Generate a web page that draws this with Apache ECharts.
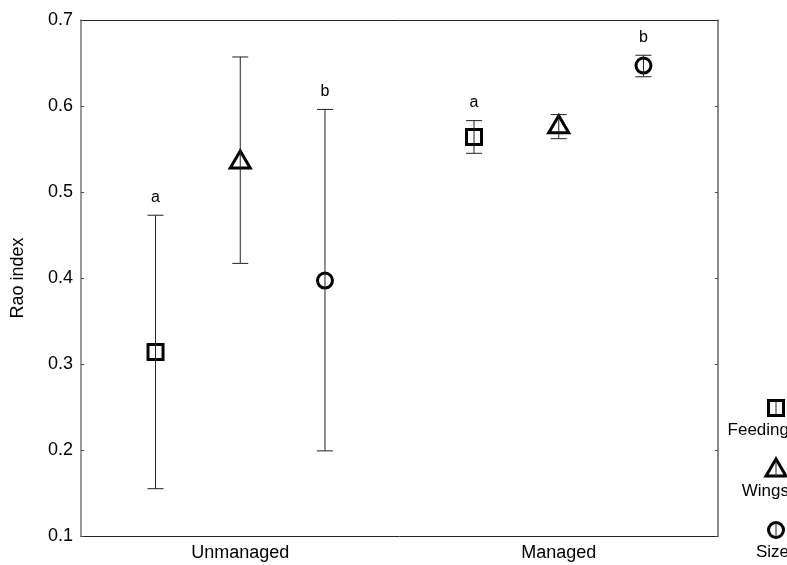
<!DOCTYPE html>
<html><head><meta charset="utf-8">
<script src="https://cdn.jsdelivr.net/npm/echarts@6/dist/echarts.min.js"></script>
<style>html,body{margin:0;padding:0;background:#fff}#c{width:787px;height:565px}</style>
</head><body><div id="c"></div>
<script>
// ---- data ----
const groups = ['Unmanaged', 'Managed'];
const traits = ['Feeding', 'Wings', 'Size'];
const meanFeeding = [0.314, 0.564];
const lowFeeding  = [0.155, 0.545];
const highFeeding = [0.473, 0.583];
const meanWings = [0.536, 0.577];
const lowWings  = [0.417, 0.562];
const highWings = [0.657, 0.590];
const meanSize = [0.397, 0.647];
const lowSize  = [0.199, 0.634];
const highSize = [0.596, 0.659];
const lettersFeeding = ['a', 'a'];
const lettersWings = ['', ''];
const lettersSize = ['b', 'b'];
const yMin = 0.1, yMax = 0.7, yStep = 0.1;

// ---- layout / style ----
const FONT = '"Liberation Sans", Arial, sans-serif';
const OFFSETS = [-0.266, 0, 0.266];
const SHAPES = ['square', 'triangle', 'circle'];

function markerShape(shape, x, y) {
  const st = { fill: '#fff', stroke: '#000', lineWidth: 3 };
  if (shape === 'square') return { type: 'rect', shape: { x: x - 7.5, y: y - 7.5, width: 15, height: 15 }, style: st };
  if (shape === 'triangle') return { type: 'polygon', shape: { points: [[x, y - 10], [x - 10, y + 7], [x + 10, y + 7]] }, style: st };
  return { type: 'circle', shape: { cx: x, cy: y, r: 7.5 }, style: st };
}

function makeSeries(k, mean, low, high, letters) {
  return {
    type: 'custom',
    name: traits[k],
    xAxisIndex: 0, yAxisIndex: 0,
    data: groups.map((g, i) => [i, mean[i], low[i], high[i]]),
    encode: { x: 0, y: [1, 2, 3] },
    renderItem(params, api) {
      const i = api.value(0);
      const c = api.coord([i, api.value(1)]);
      const bw = api.size([1, 0])[0];
      const x = c[0] + OFFSETS[k] * bw;
      const yl = api.coord([i, api.value(2)])[1];
      const yh = api.coord([i, api.value(3)])[1];
      const ls = { stroke: '#222', lineWidth: 1 };
      const children = [
        markerShape(SHAPES[k], x, c[1]),
        { type: 'line', shape: { x1: x, y1: yh, x2: x, y2: yl }, style: ls },
        { type: 'line', shape: { x1: x - 8, y1: yh, x2: x + 8, y2: yh }, style: ls },
        { type: 'line', shape: { x1: x - 8, y1: yl, x2: x + 8, y2: yl }, style: ls }
      ];
      const lt = letters[params.dataIndex];
      if (lt) children.push({ type: 'text', style: { text: lt, x: x, y: yh - 18, align: 'center', verticalAlign: 'middle', font: '16px ' + FONT, fill: '#000' } });
      return { type: 'group', children };
    }
  };
}

const legendGraphics = [];
traits.forEach((t, k) => {
  const my = 408 + k * 61;
  legendGraphics.push(Object.assign(markerShape(SHAPES[k], 776, my), { z: 10 }));
  legendGraphics.push({ type: 'line', shape: { x1: 776, y1: my - 8, x2: 776, y2: my + 8 }, style: { stroke: '#222', lineWidth: 1 }, z: 11 });
  legendGraphics.push({ type: 'text', style: { text: t, x: 789, y: my + 22, align: 'right', verticalAlign: 'middle', font: '17px ' + FONT, fill: '#000' }, z: 10 });
});

const chart = echarts.init(document.getElementById('c'), null, { renderer: 'canvas' });
chart.setOption({
  backgroundColor: '#fff',
  animation: false,
  grid: { left: 81, right: 69, top: 20, bottom: 29, containLabel: false, outerBoundsMode: 'none' },
  xAxis: [
    { type: 'category', data: groups, position: 'bottom', boundaryGap: true,
      axisLine: { lineStyle: { color: '#222', width: 1 } },
      axisTick: { inside: true, alignWithLabel: true, length: 3, lineStyle: { color: '#444' } },
      axisLabel: { fontFamily: FONT, fontSize: 18, color: '#000', margin: 8 } },
    { type: 'category', data: groups, position: 'top', boundaryGap: true,
      axisLine: { lineStyle: { color: '#222', width: 1 } },
      axisTick: { inside: true, alignWithLabel: true, length: 3, lineStyle: { color: '#444' } },
      axisLabel: { show: false } }
  ],
  yAxis: [
    { type: 'value', min: yMin, max: yMax, interval: yStep, position: 'left',
      name: 'Rao index', nameLocation: 'middle', nameGap: 54, nameRotate: 90,
      nameTextStyle: { fontFamily: FONT, fontSize: 18, color: '#000' },
      axisLine: { show: true, lineStyle: { color: '#777', width: 1.5 } },
      axisTick: { show: true, inside: true, length: 3, lineStyle: { color: '#444' } },
      splitLine: { show: false },
      axisLabel: { fontFamily: FONT, fontSize: 18, color: '#000', margin: 8, formatter: v => v.toFixed(1) } },
    { type: 'value', min: yMin, max: yMax, interval: yStep, position: 'right',
      axisLine: { show: true, lineStyle: { color: '#666', width: 1.5 } },
      axisTick: { show: true, inside: true, length: 3, lineStyle: { color: '#444' } },
      splitLine: { show: false },
      axisLabel: { show: false } }
  ],
  series: [
    makeSeries(0, meanFeeding, lowFeeding, highFeeding, lettersFeeding),
    makeSeries(1, meanWings, lowWings, highWings, lettersWings),
    makeSeries(2, meanSize, lowSize, highSize, lettersSize)
  ],
  graphic: legendGraphics
});
</script>
</body></html>
